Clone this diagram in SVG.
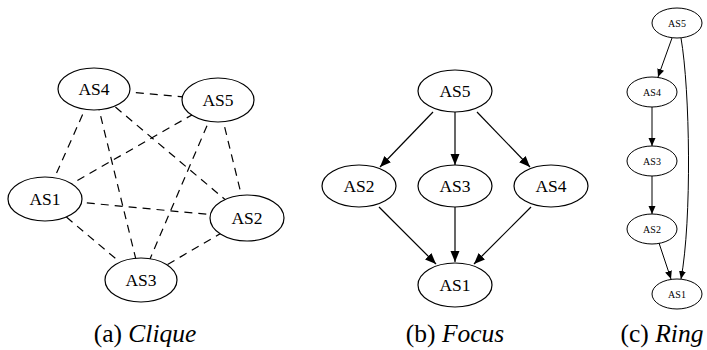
<svg xmlns="http://www.w3.org/2000/svg" width="707" height="350" viewBox="0 0 707 350">
<style>
.n{fill:#fff;stroke:#000;stroke-width:1.2}
.rn{fill:#fff;stroke:#000;stroke-width:1}
text{font-family:'Liberation Serif','Times New Roman',serif;fill:#000;text-anchor:middle}
.t{font-size:17.5px}
.rt{font-size:10px}
.d{stroke:#000;stroke-width:1.2;stroke-dasharray:8,6;fill:none}
.e{stroke:#000;stroke-width:1.2;fill:none;marker-end:url(#ah)}
.re{stroke:#000;stroke-width:1;fill:none;marker-end:url(#rah)}
.cap{font-size:25.5px}
</style>
<defs>
<marker id="ah" markerUnits="userSpaceOnUse" markerWidth="12" markerHeight="10" refX="11" refY="4.5" orient="auto"><path d="M0,0 L11,4.5 L0,9 z" fill="#000"/></marker>
<marker id="rah" markerUnits="userSpaceOnUse" markerWidth="10" markerHeight="8" refX="8" refY="3.5" orient="auto"><path d="M0,0 L8,3.5 L0,7 z" fill="#000"/></marker>
</defs>
<g id="connectors">
<line class="d" x1="94" y1="89" x2="218" y2="100"/>
<line class="d" x1="94" y1="89" x2="45" y2="199"/>
<line class="d" x1="94" y1="89" x2="247" y2="218"/>
<line class="d" x1="94" y1="89" x2="141" y2="280"/>
<line class="d" x1="218" y1="100" x2="45" y2="199"/>
<line class="d" x1="218" y1="100" x2="247" y2="218"/>
<line class="d" x1="218" y1="100" x2="141" y2="280"/>
<line class="d" x1="45" y1="199" x2="247" y2="218"/>
<line class="d" x1="45" y1="199" x2="141" y2="280"/>
<line class="d" x1="247" y1="218" x2="141" y2="280"/>
<path class="e" d="M433,112 L380,167"/>
<path class="e" d="M455,112 L455,165"/>
<path class="e" d="M477,112 L530,167"/>
<path class="e" d="M379,207 L436,264"/>
<path class="e" d="M455,207 L455,262"/>
<path class="e" d="M531,207 L474,264"/>
<path class="re" d="M672,38 L658,77"/>
<path class="re" d="M652,107 L652,146"/>
<path class="re" d="M652,176 L652,214"/>
<path class="re" d="M659,243 L671,279"/>
<path class="re" d="M681,38 C690,90 692,220 681,279"/>
</g>
<g id="clique-AS4"><ellipse class="n" cx="94" cy="89" rx="36" ry="21"/><text class="t" x="94" y="95">AS4</text></g>
<g id="clique-AS5"><ellipse class="n" cx="218" cy="100" rx="36" ry="22"/><text class="t" x="218" y="106">AS5</text></g>
<g id="clique-AS1"><ellipse class="n" cx="45" cy="199" rx="37" ry="22"/><text class="t" x="45" y="205">AS1</text></g>
<g id="clique-AS2"><ellipse class="n" cx="247" cy="218" rx="37" ry="23"/><text class="t" x="247" y="224">AS2</text></g>
<g id="clique-AS3"><ellipse class="n" cx="141" cy="280" rx="36" ry="22"/><text class="t" x="141" y="286">AS3</text></g>

<g id="focus-AS5"><ellipse class="n" cx="455" cy="91" rx="37" ry="21"/><text class="t" x="455" y="97">AS5</text></g>
<g id="focus-AS2"><ellipse class="n" cx="359" cy="186" rx="37" ry="21"/><text class="t" x="359" y="192">AS2</text></g>
<g id="focus-AS3"><ellipse class="n" cx="455" cy="186" rx="37" ry="21"/><text class="t" x="455" y="192">AS3</text></g>
<g id="focus-AS4"><ellipse class="n" cx="551" cy="186" rx="37" ry="21"/><text class="t" x="551" y="192">AS4</text></g>
<g id="focus-AS1"><ellipse class="n" cx="455" cy="285" rx="37" ry="22"/><text class="t" x="455" y="291">AS1</text></g>

<g id="ring-AS5"><ellipse class="rn" cx="677" cy="23" rx="25" ry="15"/><text class="rt" x="677" y="26.5">AS5</text></g>
<g id="ring-AS4"><ellipse class="rn" cx="652" cy="92" rx="25" ry="15"/><text class="rt" x="652" y="95.5">AS4</text></g>
<g id="ring-AS3"><ellipse class="rn" cx="652" cy="161" rx="25" ry="15"/><text class="rt" x="652" y="164.5">AS3</text></g>
<g id="ring-AS2"><ellipse class="rn" cx="652" cy="229" rx="25" ry="15"/><text class="rt" x="652" y="232.5">AS2</text></g>
<g id="ring-AS1"><ellipse class="rn" cx="677" cy="294" rx="25" ry="15"/><text class="rt" x="677" y="297.5">AS1</text></g>

<g id="captions">
<text class="cap" x="145" y="342">(a) <tspan font-style="italic">Clique</tspan></text>
<text class="cap" x="455" y="342">(b) <tspan font-style="italic">Focus</tspan></text>
<text class="cap" x="662" y="342">(c) <tspan font-style="italic">Ring</tspan></text>
</g>
</svg>
